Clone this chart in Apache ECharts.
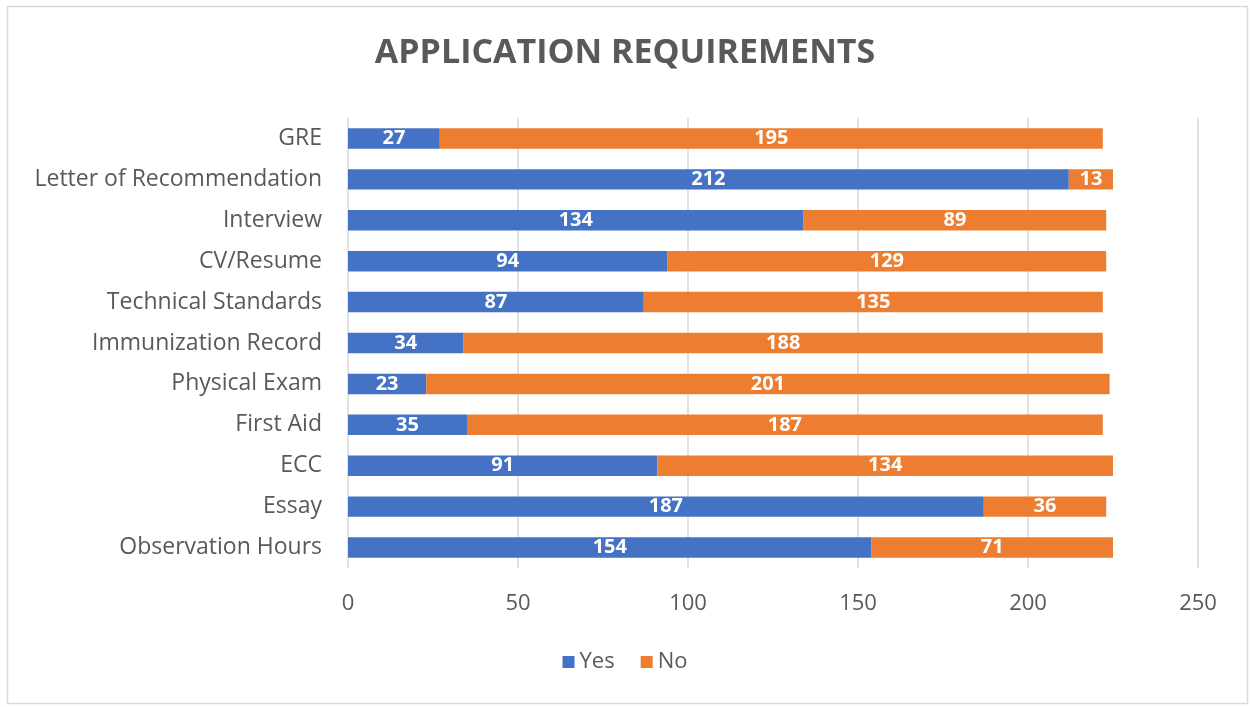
<!DOCTYPE html>
<html>
<head>
<meta charset="utf-8">
<script src="https://cdn.jsdelivr.net/npm/echarts@6/dist/echarts.min.js"></script>
<style>
html,body{margin:0;padding:0;background:#fff;}
#chart{width:1250px;height:707px;}
</style>
</head>
<body>
<div id="chart"></div>
<script>
const categories = ["Observation Hours","Essay","ECC","First Aid","Physical Exam","Immunization Record","Technical Standards","CV/Resume","Interview","Letter of Recommendation","GRE"];
const yesValues = [154,187,91,35,23,34,87,94,134,212,27];
const noValues = [71,36,134,187,201,188,135,129,89,13,195];
const xTicks = [0,50,100,150,200,250];

const FONT = '"Open Sans", sans-serif';
const chart = echarts.init(document.getElementById('chart'), null, {renderer:'canvas'});
const labelStyle = {show:true, position:'inside', color:'#fff', fontWeight:'bold', fontSize:20, fontFamily:FONT};
chart.setOption({
  animation:false,
  graphic:[{type:'rect', shape:{x:7.5,y:6.5,width:1240,height:697}, style:{fill:'none', stroke:'#d9d9d9', lineWidth:1.5}, silent:true}],
  title:{text:'APPLICATION REQUIREMENTS', left:'center', top:31, textStyle:{fontFamily:FONT, fontWeight:'bold', fontSize:34, color:'#595959'}},
  legend:{bottom:29, left:'center', itemWidth:12, itemHeight:12, itemGap:26, icon:'rect',
    textStyle:{fontFamily:FONT, fontSize:22, color:'#595959'}, data:['Yes','No']},
  grid:{left:348, right:52, top:118, bottom:139, containLabel:false},
  xAxis:{type:'value', min:xTicks[0], max:xTicks[xTicks.length-1], interval:50,
    axisLine:{show:false}, axisTick:{show:false},
    splitLine:{lineStyle:{color:'#d9d9d9', width:1.5}},
    axisLabel:{fontFamily:FONT, fontSize:22, color:'#595959', margin:25}},
  yAxis:{type:'category', data:categories,
    axisLine:{show:false}, axisTick:{show:false},
    axisLabel:{fontFamily:FONT, fontSize:23, color:'#595959', margin:26}},
  series:[
    {name:'Yes', type:'bar', stack:'t', data:yesValues, barWidth:'50%', itemStyle:{color:'#4472C4'}, label:labelStyle},
    {name:'No', type:'bar', stack:'t', data:noValues, barWidth:'50%', itemStyle:{color:'#ED7D31'}, label:labelStyle}
  ]
});
</script>
</body>
</html>
